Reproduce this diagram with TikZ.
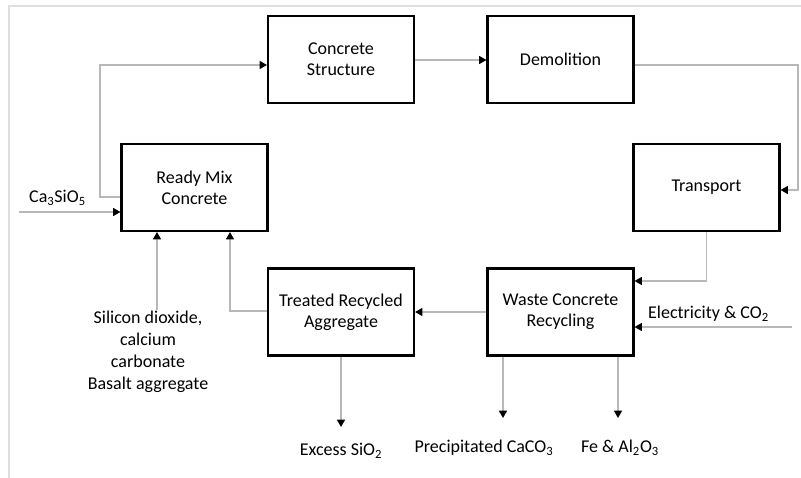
\documentclass[tikz,border=0pt]{standalone}
\usepackage{fontspec}
\setmainfont{Carlito}
\usetikzlibrary{arrows.meta}

\begin{document}
\begin{tikzpicture}[x=0.75pt,y=-0.75pt,
  unit/.style={draw,line width=1.6pt,fill=white,minimum width=109.5pt,minimum height=65.25pt,align=center,inner sep=0pt,font=\fontsize{13.5}{15.75}\selectfont},
  lbl/.style={align=center,inner sep=1pt,font=\fontsize{13.5}{16.5}\selectfont},
  flow/.style={-{Triangle[length=5.5pt,width=6pt,color=black]},line width=1.1pt,black!28},
  frame/.style={black!13,line width=2.2pt}
]
  \useasboundingbox (0,0) rectangle (801,478);
  \draw[frame] (801,6) -- (9,6) -- (9,478);

  \node[unit] (cs) at (341,59.5) {Concrete\\Structure};
  \node[unit] (dem) at (560.5,59.5) {Demolition};
  \node[unit] (rmc) at (194.5,187.5) {Ready Mix\\Concrete};
  \node[unit] (tra) at (706.5,187.5) {Transport};
  \node[unit] (trg) at (341,312) {Treated Recycled\\Aggregate};
  \node[unit] (wcr) at (560.5,312) {Waste Concrete\\Recycling};

  \node[lbl] (ca) at (57.5,198) {Ca\textsubscript{3}SiO\textsubscript{5}};
  \node[lbl] (sil) at (148,352) {Silicon dioxide,\\calcium\\carbonate\\Basalt aggregate};
  \node[lbl] (elec) at (708.5,314) {Electricity \& CO\textsubscript{2}};
  \node[lbl] (exc) at (341,451) {Excess SiO\textsubscript{2}};
  \node[lbl] (pcc) at (484,448) {Precipitated CaCO\textsubscript{3}};
  \node[lbl] (fea) at (620,448) {Fe \& Al\textsubscript{2}O\textsubscript{3}};

  \coordinate (caIn) at (19,212);
  \coordinate (elIn) at (792,327);
  \coordinate (sioOut) at (341,427);
  \coordinate (ccOut) at (503,418);
  \coordinate (feOut) at (618,418);

  % main loop
  \draw[flow] (rmc.west |- 0,197) -| (100,65) -- (cs.west |- 0,65);
  \draw[flow] (cs.east |- 0,60) -- (dem.west |- 0,60);
  \draw[flow] (dem.east |- 0,65) -| (798,190) -- (tra.east |- 0,190);
  \draw[flow] (tra.south) |- (wcr.east |- 0,281);
  \draw[flow] (wcr.west) -- (trg.east);
  \draw[flow] (trg.west |- 0,311) -| (rmc.south -| 230,0);

  % inputs
  \draw[flow] (caIn) -- (rmc.west |- caIn);
  \draw[flow] (sil.north -| 157,0) -- (rmc.south -| 157,0);
  \draw[flow] (elIn) -- (wcr.east |- elIn);

  % outputs
  \draw[flow] (trg.south) -- (sioOut);
  \draw[flow] (wcr.south -| ccOut) -- (ccOut);
  \draw[flow] (wcr.south -| feOut) -- (feOut);
\end{tikzpicture}
\end{document}
